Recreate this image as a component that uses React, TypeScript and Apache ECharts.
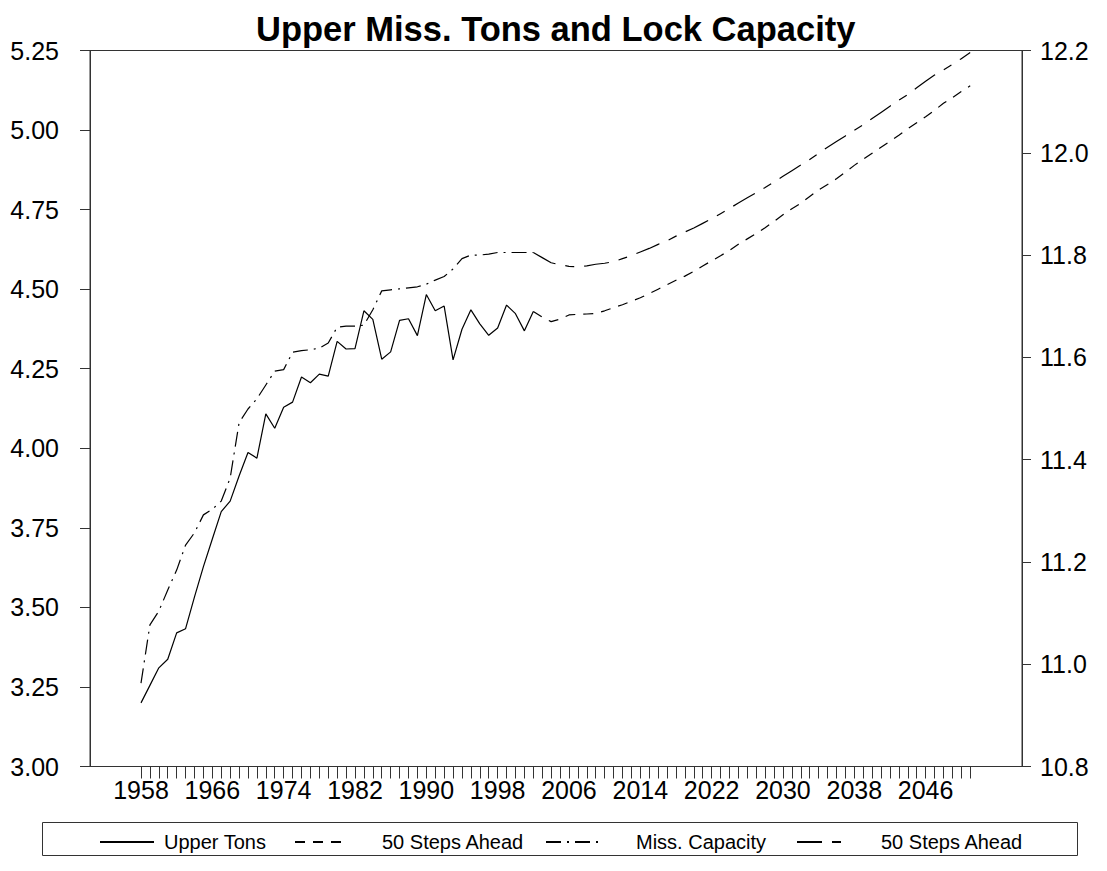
import React, { useEffect, useRef } from "react";
import * as echarts from "echarts";

// ---- data ----
const firstYear = 1958;
const lastHistoryYear = 2002;
const lastForecastYear = 2051;

// Upper Mississippi tons (left axis), 1958-2002
const upperTons = [
  3.200, 3.255, 3.310, 3.337, 3.420, 3.433, 3.533, 3.628, 3.715, 3.801,
  3.834, 3.913, 3.987, 3.969, 4.108, 4.063, 4.129, 4.145, 4.224, 4.206,
  4.233, 4.227, 4.336, 4.312, 4.313, 4.432, 4.405, 4.280, 4.303, 4.402,
  4.407, 4.354, 4.483, 4.432, 4.447, 4.278, 4.374, 4.435, 4.391, 4.355,
  4.378, 4.450, 4.423, 4.369, 4.430,
];

// Tons, 50 steps ahead forecast, 2003-2051
const tonsForecast = [
  4.412, 4.398, 4.406, 4.419, 4.421, 4.422, 4.424, 4.432, 4.442, 4.451,
  4.462, 4.473, 4.486, 4.500, 4.514, 4.528, 4.541, 4.556, 4.573, 4.589,
  4.605, 4.622, 4.641, 4.658, 4.675, 4.693, 4.713, 4.734, 4.753, 4.770,
  4.791, 4.812, 4.829, 4.847, 4.868, 4.889, 4.908, 4.927, 4.946, 4.965,
  4.984, 5.004, 5.023, 5.042, 5.062, 5.084, 5.102, 5.121, 5.139,
];

// Mississippi lock capacity (right axis), 1958-2002
const missCapacity = [
  10.963, 11.077, 11.104, 11.145, 11.184, 11.233, 11.257, 11.292, 11.303, 11.319,
  11.364, 11.472, 11.499, 11.519, 11.546, 11.573, 11.576, 11.610, 11.613, 11.615,
  11.618, 11.628, 11.659, 11.661, 11.661, 11.663, 11.693, 11.730, 11.732, 11.734,
  11.736, 11.738, 11.743, 11.751, 11.758, 11.773, 11.793, 11.800, 11.800, 11.802,
  11.805, 11.805, 11.805, 11.805, 11.805,
];

// Capacity, 50 steps ahead forecast, 2003-2051
const capacityForecast = [
  11.795, 11.785, 11.781, 11.778, 11.777, 11.779, 11.782, 11.784, 11.787, 11.793,
  11.799, 11.806, 11.813, 11.821, 11.828, 11.837, 11.845, 11.853, 11.862, 11.871,
  11.881, 11.891, 11.902, 11.912, 11.922, 11.932, 11.943, 11.954, 11.965, 11.976,
  11.987, 11.999, 12.011, 12.022, 12.033, 12.044, 12.055, 12.067, 12.079, 12.091,
  12.103, 12.114, 12.127, 12.140, 12.152, 12.162, 12.173, 12.184, 12.196,
];

const xLabelYears = [1958, 1966, 1974, 1982, 1990, 1998, 2006, 2014, 2022, 2030, 2038, 2046];
const legendNames = ["Upper Tons", "50 Steps Ahead", "Miss. Capacity", "50 Steps Ahead"];

const FONT = "'Liberation Sans', Arial, Helvetica, sans-serif";

function buildOption() {
  const tickYears: number[] = [];
  for (let y = firstYear; y <= lastForecastYear; y++) tickYears.push(y);

  const tonsHist = upperTons.map((v, i) => [firstYear + i, v]);
  const capHist = missCapacity.map((v, i) => [firstYear + i, v]);
  const tonsFc = [[lastHistoryYear, upperTons[upperTons.length - 1]]].concat(
    tonsForecast.map((v, i) => [lastHistoryYear + 1 + i, v])
  );
  const capFc = [[lastHistoryYear, missCapacity[missCapacity.length - 1]]].concat(
    capacityForecast.map((v, i) => [lastHistoryYear + 1 + i, v])
  );

  const axisColor = "#333";
  const labelStyle = { color: "#000", fontSize: 25, fontFamily: FONT };

  const legendBase = {
    orient: "horizontal",
    top: 832,
    padding: 0,
    itemWidth: 54,
    itemHeight: 14,
    selectedMode: false,
    itemStyle: { opacity: 0, color: "transparent", borderWidth: 0 },
  };

  const seriesNames = ["Upper Tons", "Tons Forecast", "Miss. Capacity", "Capacity Forecast"];
  const legendLefts = [99, 294, 545, 796];
  const legendPads = [5, 28, 31, 25];

  return {
    animation: false,
    backgroundColor: "#fff",
    title: {
      text: "Upper Miss. Tons and Lock Capacity",
      left: 256,
      top: 11,
      padding: 0,
      textStyle: { fontSize: 34.5, fontWeight: "bold", color: "#000", fontFamily: FONT },
    },
    grid: {
      left: 90,
      right: 85,
      top: 50.5,
      bottom: 104.5,
      show: true,
      borderColor: axisColor,
      borderWidth: 1,
      backgroundColor: "transparent",
    },
    legend: seriesNames.map((n, i) => ({
      ...legendBase,
      left: legendLefts[i],
      data: [n],
      formatter: () => legendNames[i],
      textStyle: {
        fontSize: 20,
        color: "#000",
        fontFamily: FONT,
        padding: [0, 0, 0, legendPads[i]],
      },
    })),
    graphic: [
      {
        type: "rect",
        shape: { x: 42.5, y: 822.5, width: 1035, height: 33 },
        style: { fill: "none", stroke: axisColor, lineWidth: 1 },
        silent: true,
      },
    ],
    xAxis: {
      type: "value",
      min: 1952.28,
      max: 2056.81,
      axisLine: { show: false },
      splitLine: { show: false },
      axisTick: {
        show: true,
        inside: false,
        length: 12,
        customValues: tickYears,
        lineStyle: { color: axisColor, width: 1 },
      },
      axisLabel: {
        ...labelStyle,
        margin: 11,
        customValues: xLabelYears,
        formatter: (v: number) => String(v),
      },
    },
    yAxis: [
      {
        type: "value",
        position: "left",
        min: 3,
        max: 5.25,
        interval: 0.25,
        axisLine: { show: true, lineStyle: { color: axisColor } },
        axisTick: { show: true, length: 10, lineStyle: { color: axisColor } },
        splitLine: { show: false },
        axisLabel: { ...labelStyle, margin: 31, formatter: (v: number) => v.toFixed(2) },
      },
      {
        type: "value",
        position: "right",
        min: 10.8,
        max: 12.2,
        interval: 0.2,
        axisLine: { show: true, lineStyle: { color: axisColor } },
        axisTick: { show: true, length: 9, lineStyle: { color: axisColor } },
        splitLine: { show: false },
        axisLabel: { ...labelStyle, margin: 18, formatter: (v: number) => v.toFixed(1) },
      },
    ],
    series: [
      {
        name: "Upper Tons",
        type: "line",
        yAxisIndex: 0,
        data: tonsHist,
        showSymbol: false,
        symbol: "none",
        lineStyle: { color: "#000", width: 1.2, type: "solid" },
        itemStyle: { color: "#000" },
      },
      {
        name: "Tons Forecast",
        type: "line",
        yAxisIndex: 0,
        data: tonsFc,
        showSymbol: false,
        symbol: "none",
        lineStyle: { color: "#000", width: 1.2, type: [10, 8] },
        itemStyle: { color: "#000" },
      },
      {
        name: "Miss. Capacity",
        type: "line",
        yAxisIndex: 1,
        data: capHist,
        showSymbol: false,
        symbol: "none",
        lineStyle: { color: "#000", width: 1.2, type: [15, 6, 2, 6] },
        itemStyle: { color: "#000" },
      },
      {
        name: "Capacity Forecast",
        type: "line",
        yAxisIndex: 1,
        data: capFc,
        showSymbol: false,
        symbol: "none",
        lineStyle: { color: "#000", width: 1.2, type: [25, 10, 9, 10] },
        itemStyle: { color: "#000" },
      },
    ],
  };
}

export default function App() {
  const ref = useRef<HTMLDivElement>(null);
  useEffect(() => {
    if (!ref.current) return;
    const chart = echarts.init(ref.current, null, { renderer: "svg" });
    chart.setOption(buildOption() as any);
    return () => chart.dispose();
  }, []);
  return (
    <div
      ref={ref}
      style={{ position: "absolute", left: 0, top: 0, width: 1107, height: 871, background: "#fff" }}
    />
  );
}
